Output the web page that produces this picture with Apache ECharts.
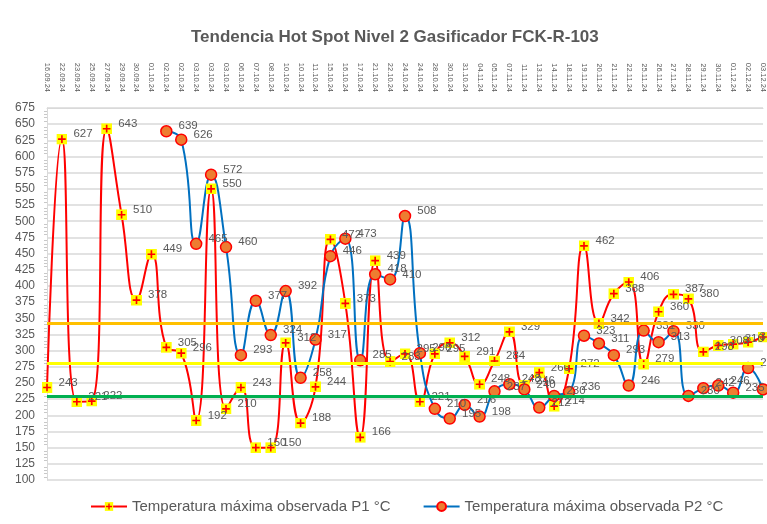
<!DOCTYPE html>
<html lang="es">
<head>
<meta charset="UTF-8">
<title>Tendencia Hot Spot</title>
<script src="https://cdn.jsdelivr.net/npm/echarts@6/dist/echarts.min.js"></script>
<style>
  html, body { margin: 0; padding: 0; background: #fff; }
  #main { width: 767px; height: 524px; }
</style>
</head>
<body>
<div id="main"></div>
<script>
  // fechas (eje superior)
  const fechas = [
    "16.09.24", "22.09.24", "23.09.24", "25.09.24", "27.09.24", "29.09.24", "30.09.24",
    "01.10.24", "02.10.24", "02.10.24", "03.10.24", "03.10.24", "03.10.24", "06.10.24",
    "07.10.24", "08.10.24", "10.10.24", "10.10.24", "11.10.24", "15.10.24", "16.10.24",
    "17.10.24", "21.10.24", "22.10.24", "24.10.24", "24.10.24", "28.10.24", "30.10.24",
    "31.10.24", "04.11.24", "05.11.24", "07.11.24", "11.11.24", "13.11.24", "14.11.24",
    "18.11.24", "19.11.24", "20.11.24", "21.11.24", "22.11.24", "25.11.24", "26.11.24",
    "27.11.24", "28.11.24", "29.11.24", "30.11.24", "01.12.24", "02.12.24", "03.12.24"
  ];

  // temperatura maxima P1
  const tempP1 = [
    243, 627, 221, 222, 643, 510, 378, 449, 305, 296, 192, 550, 210, 243, 150, 150,
    312, 188, 244, 472, 373, 166, 439, 283, 295, 221, 295, 312, 291, 248, 284, 329,
    246, 266, 214, 272, 462, 342, 388, 406, 279, 360, 387, 380, 298, 308, 310, 313, 321
  ];

  // temperatura maxima P2 (sin datos al inicio)
  const tempP2 = [
    null, null, null, null, null, null, null, null,
    639, 626, 465, 572, 460, 293, 377, 324, 392, 258, 317, 446, 473, 285, 418, 410,
    508, 296, 210, 195, 216, 198, 237, 248, 240, 212, 230, 236, 323, 311, 293, 246,
    331, 313, 330, 230, 242, 246, 235, 273, 240
  ];

  // limites horizontales
  const limites = [343, 280, 230];
  const coloresLimite = ["#FFC000", "#FFFF00", "#00B050"];

  const nombreP1 = "Temperatura máxima observada P1 °C";
  const nombreP2 = "Temperatura máxima observada P2 °C";

  const svgP1 = "<svg xmlns='http://www.w3.org/2000/svg' width='20' height='20' viewBox='0 0 20 20'>" +
    "<rect x='0' y='0' width='20' height='20' fill='#FFFF00'/>" +
    "<path d='M10 3V17M3 10H17' stroke='#FF0000' stroke-width='3'/></svg>";
  const simboloP1 = "image://data:image/svg+xml;charset=utf-8," + encodeURIComponent(svgP1);

  var myChart = echarts.init(document.getElementById("main"));
  var fuente = "Liberation Sans, Arial, sans-serif";

  var option = {
    animation: false,
    textStyle: { fontFamily: fuente },
    title: {
      text: "Tendencia Hot Spot Nivel 2 Gasificador FCK-R-103",
      left: 186,
      top: 24,
      textStyle: { fontSize: 17, fontWeight: "bold", color: "#595959", fontFamily: fuente }
    },
    legend: {
      left: 85,
      top: 494,
      itemWidth: 36,
      itemHeight: 11,
      itemGap: 32,
      textStyle: { fontSize: 15, color: "#595959" },
      data: [nombreP1, nombreP2]
    },
    grid: { left: 47, right: 0, top: 108, bottom: 44 },
    xAxis: {
      type: "category",
      position: "top",
      boundaryGap: false,
      data: fechas,
      axisLine: { lineStyle: { color: "#D9D9D9", width: 1 } },
      axisTick: { show: false },
      axisLabel: { rotate: 90, interval: 0, fontSize: 7.5, color: "#595959", margin: 16 },
      splitLine: { show: false }
    },
    yAxis: {
      type: "value",
      min: 100,
      max: 675,
      interval: 25,
      axisLine: { show: true, lineStyle: { color: "#D9D9D9" } },
      axisTick: { show: false },
      minorTick: { show: true, splitNumber: 5, length: 3, lineStyle: { color: "#C8C8C8" } },
      axisLabel: { fontSize: 12, color: "#595959", margin: 12 },
      splitLine: { lineStyle: { color: "#D9D9D9", width: 1.5 } }
    },
    series: [
      {
        name: nombreP1,
        type: "line",
        smooth: 0.5,
        data: tempP1,
        symbol: simboloP1,
        symbolSize: 11,
        lineStyle: { color: "#FF0000", width: 2 },
        itemStyle: { color: "#FF0000" },
        label: { show: true, position: "right", distance: 6, offset: [0, -5], fontSize: 11.5, color: "#595959" }
      },
      {
        name: nombreP2,
        type: "line",
        smooth: 0.5,
        data: tempP2,
        symbol: "circle",
        symbolSize: 11,
        lineStyle: { color: "#0070C0", width: 2 },
        itemStyle: { color: "#ED7D31", borderColor: "#FF0000", borderWidth: 1.5 },
        label: { show: true, position: "right", distance: 6, offset: [0, -5], fontSize: 11.5, color: "#595959" }
      },
      {
        name: "limites",
        type: "line",
        data: [],
        silent: true,
        markLine: {
          silent: true,
          symbol: "none",
          label: { show: false },
          data: limites.map(function (v, i) {
            return { yAxis: v, lineStyle: { color: coloresLimite[i], width: 3, type: "solid" } };
          })
        }
      }
    ]
  };
  option && myChart.setOption(option);
</script>
</body>
</html>
